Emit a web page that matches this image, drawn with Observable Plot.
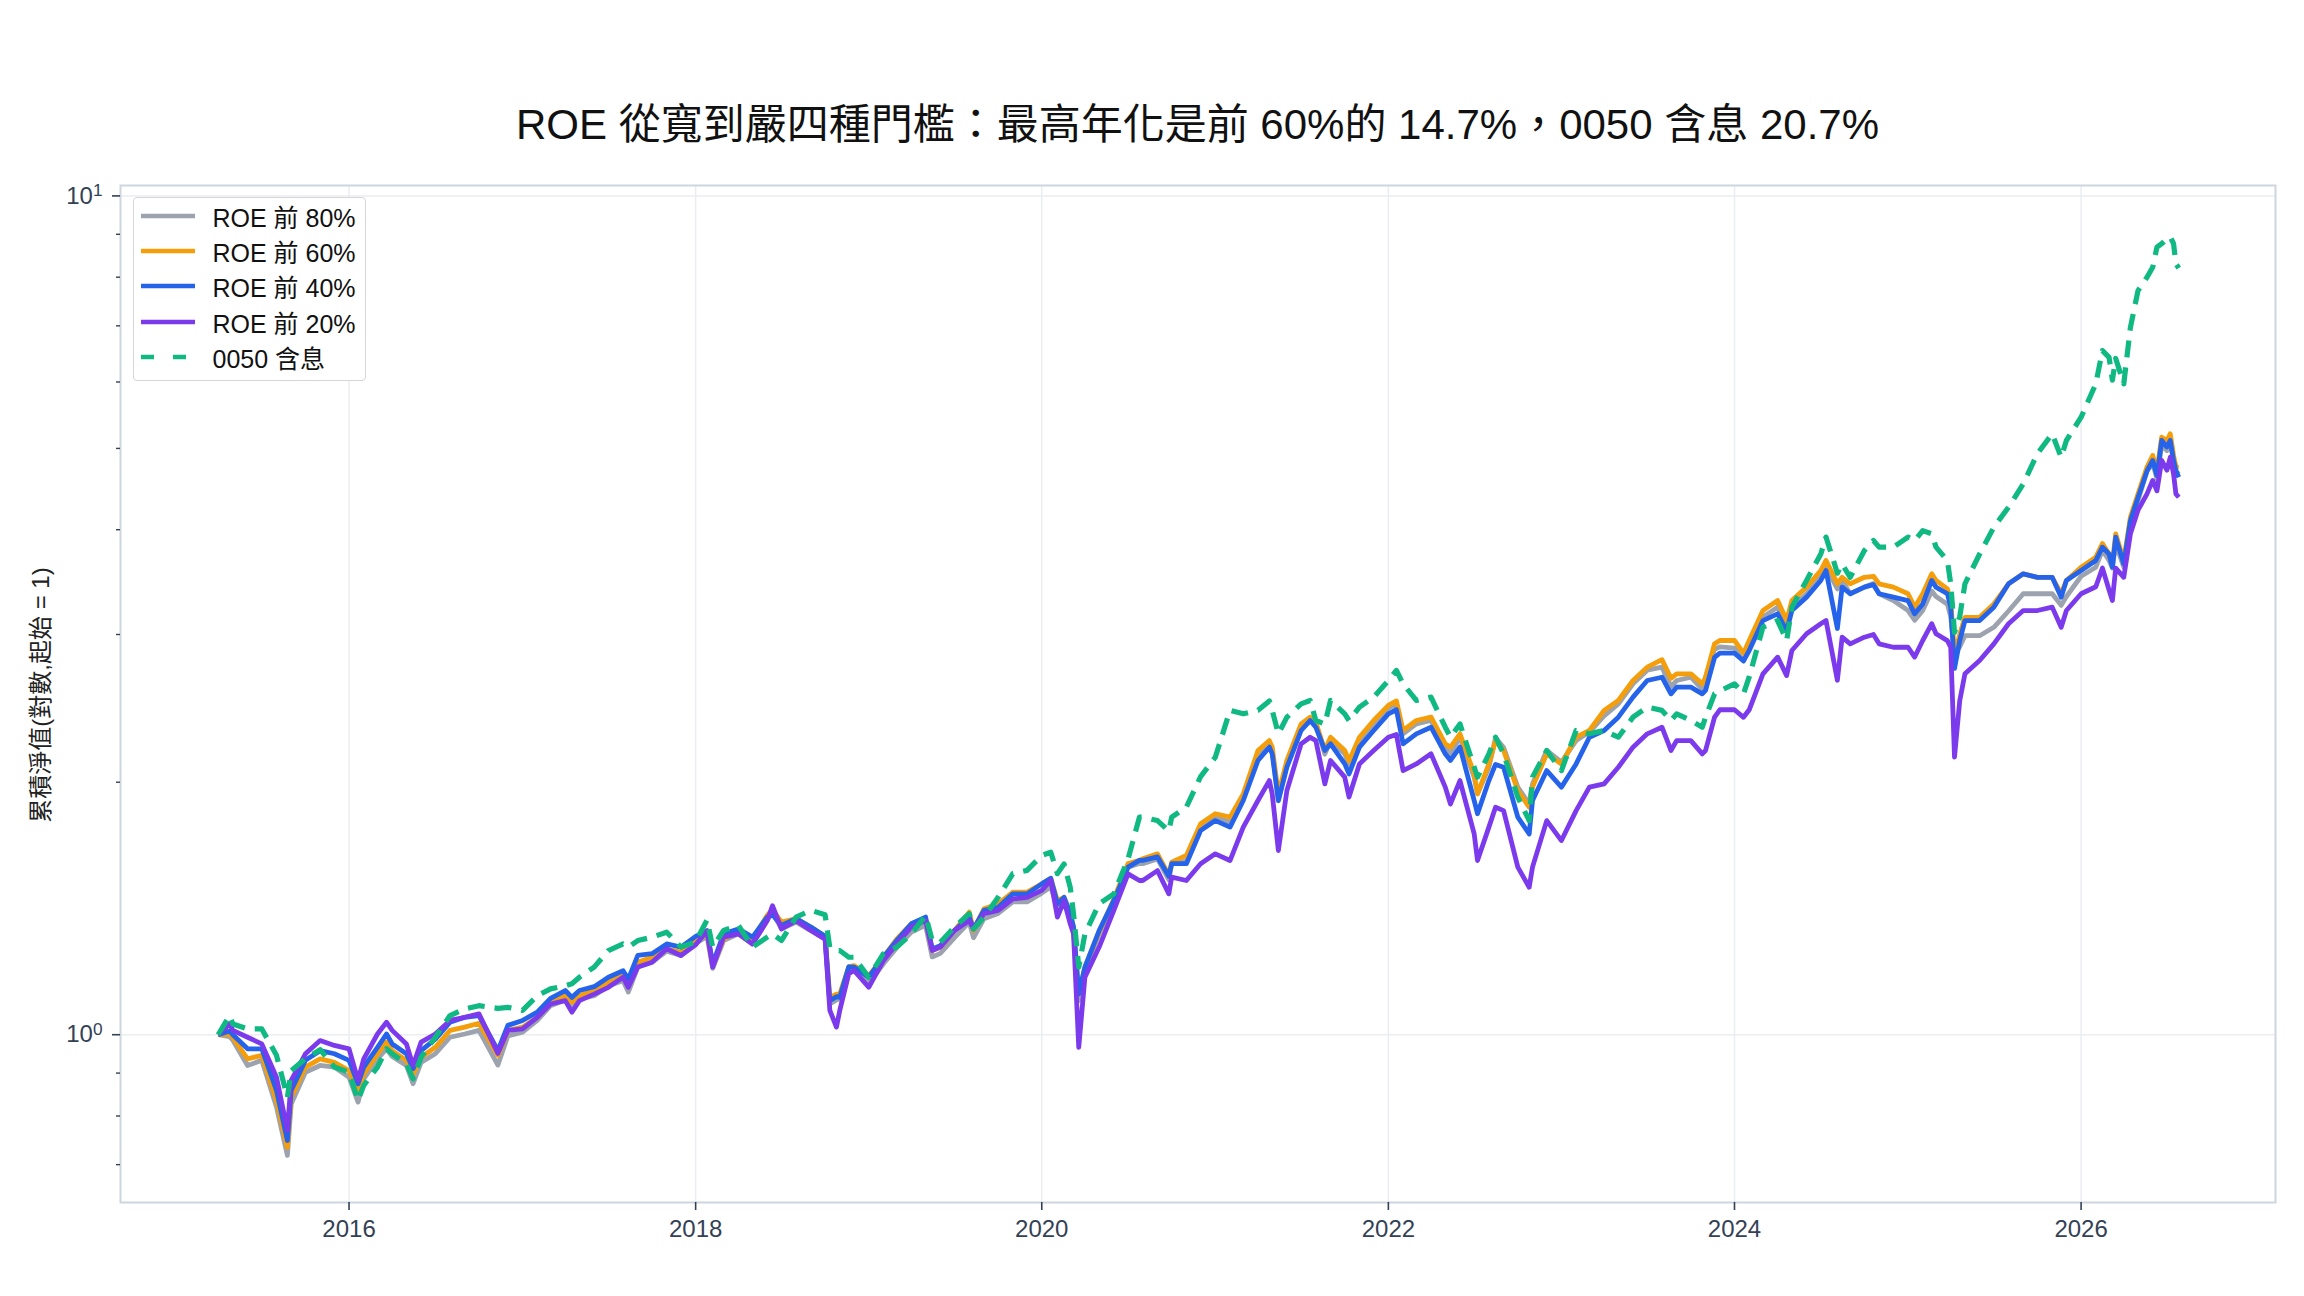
<!DOCTYPE html>
<html>
<head>
<meta charset="utf-8">
<script src="https://cdn.jsdelivr.net/npm/d3@7"></script>
<script src="https://cdn.jsdelivr.net/npm/@observablehq/plot@0.6"></script>
<style>
  html, body { margin: 0; padding: 0; background: #fff; }
  #wrap { position: relative; width: 2304px; height: 1296px; overflow: hidden;
          font-family: "Liberation Sans", "Noto Sans CJK TC", sans-serif; }
  #title { position: relative; height: 160px; }
  #title span { position: absolute; left: 120px; width: 2155px; top: 99px; line-height: 52px;
                text-align: center; font-size: 42px; color: #111; white-space: nowrap; }
  #ylabel { position: absolute; left: 38px; top: 695px; transform: translate(-50%, -50%) rotate(-90deg);
            font-size: 24px; color: #222; white-space: nowrap; }
  #legend { position: absolute; left: 133px; top: 197px; width: 231px; box-sizing: content-box;
            border: 1.5px solid #d6d6d6; border-radius: 4px; background: #fff;
            padding: 0 0 5.5px 0; }
  .row { height: 35.3px; display: flex; align-items: center; font-size: 25px; color: #111; white-space: nowrap; }
  .row svg { margin-left: 6.5px; margin-right: 18px; flex: none; }
</style>
</head>
<body>
<div id="wrap">
  <div id="title"><span id="titleText"></span></div>
  <div id="chart"></div>
  <div id="ylabel"></div>
  <div id="legend"></div>
</div>
<script>
const titleText = "ROE 從寬到嚴四種門檻：最高年化是前 60%的 14.7%，0050 含息 20.7%";
const yAxisTitle = "累積淨值(對數,起始 = 1)";
const seriesNames = ["ROE 前 80%", "ROE 前 60%", "ROE 前 40%", "ROE 前 20%", "0050 含息"];
const seriesColors = ["#9ca3af", "#f59e0b", "#2563eb", "#7c3aed", "#10b981"];
const xTickYears = [2016, 2018, 2020, 2022, 2024, 2026];
const yMajorTicks = [1, 10];
const yMajorExponents = ["0", "1"];
const yMinorTicks = [0.7, 0.8, 0.9, 2, 3, 4, 5, 6, 7, 8, 9];

const dates = [
  "2015-03-31","2015-04-24","2015-05-01","2015-06-01","2015-07-01","2015-08-01","2015-08-24","2015-09-01","2015-10-01","2015-11-01","2015-12-01",
  "2016-01-01","2016-01-20","2016-02-01","2016-03-01","2016-03-20","2016-04-01","2016-05-01","2016-05-15","2016-06-01","2016-07-01","2016-08-01","2016-09-01","2016-10-01","2016-11-10","2016-12-01",
  "2017-01-01","2017-02-01","2017-03-01","2017-04-01","2017-04-15","2017-05-01","2017-06-01","2017-07-01","2017-08-01","2017-08-12","2017-09-01","2017-10-01","2017-11-01","2017-12-01",
  "2018-01-01","2018-01-25","2018-02-06","2018-03-01","2018-04-01","2018-05-01","2018-06-01","2018-06-12","2018-07-01","2018-08-01","2018-09-01","2018-10-01","2018-10-11","2018-10-25","2018-11-01","2018-11-20","2018-12-01",
  "2019-01-01","2019-02-01","2019-03-01","2019-04-01","2019-05-01","2019-05-15","2019-06-01","2019-07-01","2019-08-01","2019-08-10","2019-09-01","2019-10-01","2019-11-01","2019-12-01",
  "2020-01-01","2020-01-20","2020-02-03","2020-02-17","2020-03-01","2020-03-08","2020-03-19","2020-04-01","2020-05-01","2020-06-01","2020-07-01","2020-07-25","2020-08-01","2020-09-01","2020-09-25","2020-10-01","2020-11-01","2020-12-01",
  "2021-01-01","2021-02-01","2021-03-01","2021-04-01","2021-04-25","2021-05-01","2021-05-14","2021-06-01","2021-07-01","2021-07-20","2021-08-01","2021-08-20","2021-09-01","2021-10-01","2021-10-10","2021-11-01","2021-12-01",
  "2022-01-01","2022-01-18","2022-02-01","2022-03-01","2022-04-01","2022-05-01","2022-05-12","2022-06-01","2022-07-01","2022-07-08","2022-08-01","2022-08-15","2022-09-01","2022-10-01","2022-10-25","2022-11-01","2022-12-01",
  "2023-01-01","2023-02-01","2023-03-01","2023-04-01","2023-05-01","2023-06-01","2023-07-01","2023-08-01","2023-08-20","2023-09-01","2023-10-01","2023-10-25","2023-11-01","2023-11-20","2023-12-01",
  "2024-01-01","2024-01-20","2024-02-01","2024-03-01","2024-04-01","2024-04-20","2024-05-01","2024-06-01","2024-07-01","2024-07-12","2024-08-05","2024-08-15","2024-09-01","2024-10-01","2024-10-20","2024-11-01","2024-12-01",
  "2025-01-01","2025-01-15","2025-02-01","2025-02-20","2025-03-01","2025-03-25","2025-04-01","2025-04-09","2025-04-20","2025-05-01","2025-06-01","2025-07-01","2025-08-01","2025-09-01","2025-10-01","2025-11-01","2025-11-20","2025-12-01",
  "2026-01-01","2026-02-01","2026-02-15","2026-03-01","2026-03-08","2026-03-15","2026-04-01","2026-04-15","2026-05-01","2026-05-20","2026-06-01","2026-06-10","2026-06-20","2026-07-01","2026-07-08","2026-07-15","2026-07-20","2026-07-26"
];

const roe80 = [
  1.000,0.995,0.985,0.919,0.932,0.820,0.718,0.827,0.902,0.919,0.915,
  0.890,0.831,0.886,0.936,0.962,0.942,0.919,0.874,0.927,0.949,0.993,1.002,1.012,0.920,0.997,
  1.007,1.040,1.083,1.100,1.078,1.103,1.113,1.144,1.160,1.124,1.204,1.220,1.258,1.243,
  1.285,1.310,1.200,1.295,1.319,1.283,1.368,1.400,1.337,1.362,1.331,1.300,1.088,1.100,1.103,1.190,1.193,
  1.150,1.215,1.270,1.325,1.350,1.238,1.250,1.305,1.362,1.305,1.375,1.395,1.440,1.440,
  1.475,1.500,1.420,1.440,1.380,1.330,1.098,1.193,1.319,1.432,1.584,1.600,1.599,1.620,1.530,1.599,1.610,1.770,
  1.817,1.792,1.920,2.162,2.200,2.182,1.900,2.100,2.326,2.380,2.347,2.160,2.242,2.162,2.100,2.242,2.347,
  2.450,2.480,2.284,2.347,2.369,2.202,2.160,2.263,2.028,1.937,2.084,2.260,2.200,1.973,1.884,1.991,2.182,
  2.113,2.242,2.295,2.400,2.480,2.620,2.720,2.743,2.600,2.644,2.668,2.580,2.668,2.880,2.900,
  2.890,2.790,2.900,3.145,3.234,3.060,3.234,3.355,3.510,3.610,3.400,3.480,3.355,3.417,3.450,3.355,3.293,
  3.204,3.120,3.204,3.380,3.330,3.260,3.150,2.840,2.900,2.990,2.990,3.060,3.200,3.355,3.355,3.355,3.250,3.330,
  3.520,3.609,3.780,3.676,3.600,3.850,3.609,4.050,4.334,4.700,4.800,4.600,5.050,4.970,5.110,4.800,4.700,4.660
];
const roe60 = [
  1.000,1.002,0.992,0.936,0.945,0.835,0.734,0.842,0.915,0.936,0.927,
  0.906,0.858,0.898,0.949,0.980,0.957,0.932,0.898,0.940,0.966,1.012,1.021,1.032,0.945,1.012,
  1.021,1.049,1.093,1.113,1.093,1.113,1.129,1.155,1.176,1.150,1.220,1.237,1.266,1.254,
  1.295,1.320,1.210,1.300,1.331,1.300,1.388,1.410,1.362,1.375,1.344,1.310,1.108,1.118,1.118,1.205,1.209,
  1.176,1.237,1.300,1.356,1.375,1.260,1.272,1.331,1.400,1.331,1.413,1.432,1.479,1.479,
  1.513,1.536,1.445,1.458,1.394,1.344,1.118,1.204,1.325,1.452,1.600,1.614,1.621,1.643,1.550,1.606,1.636,1.784,
  1.834,1.817,1.937,2.182,2.242,2.202,1.937,2.123,2.347,2.391,2.358,2.182,2.263,2.182,2.120,2.263,2.369,
  2.469,2.500,2.305,2.369,2.391,2.222,2.202,2.284,2.046,1.937,2.103,2.240,2.182,1.955,1.867,1.973,2.162,
  2.103,2.263,2.305,2.436,2.503,2.644,2.743,2.800,2.660,2.693,2.693,2.620,2.668,2.925,2.951,
  2.951,2.850,2.951,3.204,3.293,3.117,3.293,3.417,3.576,3.676,3.450,3.510,3.448,3.510,3.520,3.448,3.417,
  3.355,3.234,3.355,3.544,3.480,3.400,3.293,2.840,3.000,3.145,3.145,3.263,3.448,3.544,3.510,3.510,3.355,3.480,
  3.609,3.710,3.850,3.742,3.650,3.955,3.676,4.140,4.413,4.750,4.904,4.700,5.157,5.110,5.205,4.904,4.750,4.750
];
const roe40 = [
  1.000,1.010,1.000,0.962,0.962,0.858,0.748,0.858,0.932,0.957,0.949,
  0.932,0.874,0.915,0.966,1.002,0.975,0.949,0.911,0.957,0.988,1.035,1.049,1.054,0.957,1.026,
  1.040,1.064,1.105,1.129,1.108,1.129,1.141,1.171,1.192,1.165,1.243,1.249,1.283,1.272,
  1.310,1.330,1.215,1.319,1.337,1.307,1.381,1.390,1.350,1.375,1.344,1.310,1.098,1.110,1.108,1.205,1.204,
  1.171,1.237,1.295,1.356,1.381,1.265,1.277,1.331,1.381,1.337,1.407,1.419,1.472,1.472,
  1.513,1.536,1.432,1.458,1.394,1.344,1.118,1.204,1.331,1.445,1.584,1.614,1.614,1.629,1.545,1.599,1.599,1.752,
  1.800,1.768,1.902,2.123,2.202,2.162,1.902,2.084,2.305,2.369,2.326,2.182,2.222,2.103,2.046,2.202,2.305,
  2.413,2.440,2.222,2.284,2.326,2.162,2.123,2.202,1.902,1.834,2.009,2.100,2.084,1.817,1.735,1.902,2.065,
  1.973,2.103,2.263,2.305,2.391,2.526,2.644,2.668,2.549,2.596,2.596,2.549,2.573,2.818,2.850,
  2.850,2.790,2.871,3.117,3.175,3.030,3.204,3.324,3.480,3.576,3.050,3.417,3.355,3.417,3.440,3.355,3.324,
  3.293,3.175,3.263,3.480,3.417,3.355,3.234,2.733,2.950,3.117,3.117,3.234,3.448,3.544,3.510,3.510,3.324,3.480,
  3.576,3.676,3.813,3.742,3.609,3.920,3.640,4.100,4.370,4.700,4.837,4.640,5.110,5.020,5.110,4.840,4.700,4.620
];
const roe20 = [
  1.000,1.030,1.012,0.993,0.975,0.890,0.769,0.882,0.949,0.984,0.971,
  0.962,0.882,0.936,1.002,1.035,1.012,0.975,0.919,0.980,1.002,1.040,1.049,1.059,0.950,1.012,
  1.016,1.049,1.088,1.098,1.064,1.098,1.118,1.139,1.171,1.139,1.204,1.220,1.266,1.243,
  1.280,1.330,1.204,1.307,1.319,1.283,1.368,1.425,1.337,1.368,1.331,1.300,1.069,1.021,1.069,1.182,1.193,
  1.139,1.226,1.283,1.344,1.368,1.260,1.272,1.331,1.368,1.337,1.394,1.407,1.452,1.458,
  1.486,1.528,1.381,1.445,1.356,1.319,0.966,1.171,1.272,1.407,1.555,1.527,1.527,1.569,1.472,1.541,1.527,1.599,
  1.643,1.613,1.768,1.902,2.009,1.937,1.658,1.955,2.222,2.263,2.242,1.991,2.123,2.028,1.920,2.103,2.182,
  2.263,2.280,2.065,2.103,2.162,1.973,1.884,2.009,1.735,1.613,1.768,1.867,1.850,1.584,1.499,1.584,1.800,
  1.704,1.850,1.973,1.991,2.084,2.202,2.284,2.326,2.182,2.242,2.242,2.162,2.182,2.391,2.440,
  2.440,2.390,2.440,2.693,2.819,2.680,2.871,3.006,3.090,3.117,2.646,2.978,2.924,2.978,3.000,2.924,2.897,
  2.897,2.820,2.951,3.090,3.006,2.950,2.897,2.143,2.500,2.693,2.793,2.924,3.090,3.204,3.204,3.234,3.060,3.204,
  3.355,3.420,3.600,3.390,3.293,3.600,3.510,3.955,4.220,4.413,4.580,4.450,4.837,4.710,4.880,4.660,4.413,4.373
];
const etf0050 = [
  1.000,1.054,1.030,1.016,1.016,0.945,0.842,0.906,0.936,0.960,0.915,
  0.902,0.835,0.870,0.915,0.962,0.949,0.923,0.886,0.940,0.993,1.054,1.073,1.083,1.075,1.078,
  1.069,1.113,1.134,1.144,1.150,1.171,1.204,1.260,1.283,1.272,1.295,1.307,1.325,1.272,
  1.290,1.370,1.272,1.331,1.350,1.272,1.307,1.319,1.295,1.381,1.407,1.390,1.270,1.260,1.260,1.237,1.237,
  1.171,1.249,1.272,1.319,1.387,1.295,1.289,1.344,1.394,1.337,1.381,1.458,1.556,1.570,
  1.636,1.650,1.556,1.598,1.499,1.394,1.204,1.319,1.432,1.472,1.620,1.817,1.817,1.800,1.750,1.817,1.868,2.031,
  2.142,2.436,2.413,2.436,2.500,2.436,2.284,2.391,2.480,2.503,2.369,2.347,2.503,2.413,2.369,2.458,2.526,
  2.644,2.718,2.620,2.503,2.526,2.326,2.263,2.347,2.084,2.028,2.162,2.263,2.162,1.920,1.800,2.028,2.182,
  2.065,2.305,2.284,2.305,2.263,2.391,2.458,2.436,2.369,2.413,2.369,2.326,2.391,2.549,2.570,
  2.620,2.550,2.670,3.061,3.117,2.950,3.234,3.480,3.742,3.920,3.550,3.640,3.510,3.778,3.883,3.813,3.813,
  3.920,3.883,3.990,3.955,3.813,3.676,3.448,3.017,3.150,3.448,3.742,4.028,4.255,4.536,4.930,5.205,4.880,5.110,
  5.447,5.970,6.540,6.420,6.030,6.400,5.970,6.970,7.710,8.000,8.222,8.690,8.770,8.890,8.940,8.770,8.300,8.200
];

const seriesValues = [roe80, roe60, roe40, roe20, etf0050];
seriesValues.forEach((v, k) => {
  if (v.length !== dates.length) throw new Error(`series ${k} has ${v.length} values, dates ${dates.length}`);
});

const parse = d3.utcParse("%Y-%m-%d");
const rowsFor = (k) => dates.map((d, i) => ({date: parse(d), value: seriesValues[k][i], series: seriesNames[k]}));

document.getElementById("titleText").textContent = titleText;
document.getElementById("ylabel").textContent = yAxisTitle;

const xTicks = xTickYears.map(y => new Date(Date.UTC(y, 0, 1)));
const fontFamily = '"Liberation Sans", "Noto Sans CJK TC", sans-serif';
const axisColor = "#334155";

const lineMarks = seriesNames.map((name, k) => Plot.lineY(rowsFor(k), {
  x: "date", y: "value",
  stroke: seriesColors[k],
  strokeWidth: k === 4 ? 5.2 : 4.8,
  strokeDasharray: k === 4 ? "17,10" : null,
  strokeLinejoin: "round",
  strokeLinecap: "butt"
}));

const chart = Plot.plot({
  width: 2304,
  height: 1136,
  marginLeft: 120,
  marginRight: 29,
  marginTop: 25,
  marginBottom: 94,
  style: {fontFamily, fontSize: "24px", color: axisColor, background: "#fff", overflow: "visible"},
  x: {type: "utc", domain: [new Date(Date.UTC(2014, 8, 6)), new Date(Date.UTC(2027, 1, 15))]},
  y: {type: "log", domain: [0.6309, 10.29]},
  marks: [
    Plot.gridX(xTicks, {stroke: "#ebedf2", strokeOpacity: 1, strokeWidth: 1.5}),
    Plot.gridY(yMajorTicks, {stroke: "#ebedf2", strokeOpacity: 1, strokeWidth: 1.5}),
    ...lineMarks,
    Plot.frame({stroke: "#cdd5df", strokeWidth: 2}),
    Plot.axisX(xTicks, {tickFormat: d3.utcFormat("%Y"), tickSize: 8, tickPadding: 9, label: null, stroke: axisColor, strokeWidth: 1.6}),
    Plot.axisY(yMajorTicks, {tickFormat: d => "10^" + yMajorExponents[yMajorTicks.indexOf(d)], tickSize: 8, tickPadding: 10, label: null, stroke: axisColor, strokeWidth: 1.6}),
    Plot.axisY(yMinorTicks, {text: null, tickSize: 4, label: null, stroke: axisColor, strokeWidth: 1.4})
  ]
});
// render "10^n" labels with a raised exponent
d3.select(chart).selectAll("text").each(function() {
  const t = this.textContent;
  if (/^10\^\d$/.test(t)) {
    const exp = t.slice(3);
    const sel = d3.select(this);
    sel.text(null);
    sel.append("tspan").text("10");
    sel.append("tspan").attr("dy", "-0.42em").attr("font-size", "0.72em").text(exp);
  }
});
document.getElementById("chart").appendChild(chart);

// legend
const legend = document.getElementById("legend");
seriesNames.forEach((name, k) => {
  const row = document.createElement("div");
  row.className = "row";
  const dash = k === 4 ? ' stroke-dasharray="13,19"' : "";
  row.innerHTML = `<svg width="54" height="10"><line x1="0" y1="5" x2="54" y2="5" stroke="${seriesColors[k]}" stroke-width="4.5"${dash}/></svg><span>${name}</span>`;
  legend.appendChild(row);
});
</script>
</body>
</html>
